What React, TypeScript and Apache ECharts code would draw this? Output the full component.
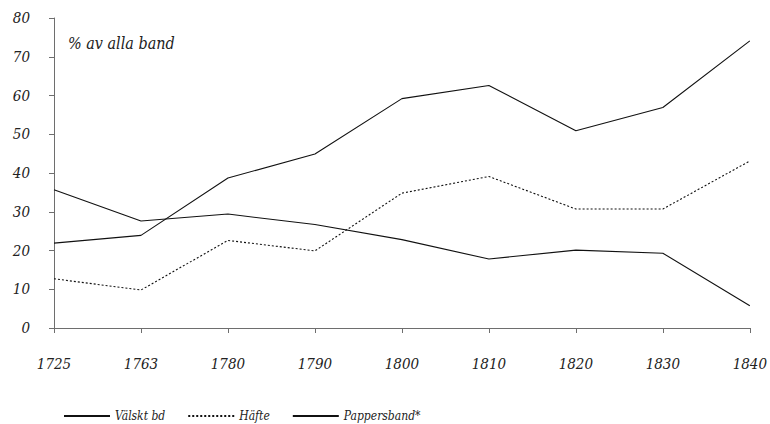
import React, { useEffect, useRef } from "react";
import * as echarts from "echarts";

const years = ["1725", "1763", "1780", "1790", "1800", "1810", "1820", "1830", "1840"];
const valsktBd = [21.9, 23.9, 38.7, 44.9, 59.2, 62.6, 50.9, 56.9, 74.1];
const hafte = [12.7, 9.8, 22.6, 19.9, 34.8, 39.1, 30.7, 30.7, 43.1];
const pappersband = [35.7, 27.6, 29.4, 26.7, 22.8, 17.8, 20.1, 19.3, 5.75];
const yTicks = [0, 10, 20, 30, 40, 50, 60, 70, 80];
const annotation = "% av alla band";

const FONT = "DejaVu Serif Condensed";
const AXIS = "#6e6e6e";

export default function App() {
  const ref = useRef<HTMLDivElement>(null);
  useEffect(() => {
    if (!ref.current) return;
    const chart = echarts.init(ref.current, null, { renderer: "svg" });
    const labelStyle = {
      fontFamily: FONT,
      fontStyle: "italic" as const,
      fontSize: 15,
      color: "#222",
    };
    chart.setOption({
      animation: false,
      backgroundColor: "#fff",
      grid: { left: 54, right: 18, top: 18, bottom: 96, containLabel: false },
      xAxis: {
        type: "category",
        data: years,
        boundaryGap: false,
        axisLine: { lineStyle: { color: AXIS, width: 1 } },
        axisTick: { show: true, length: 5, alignWithLabel: true, lineStyle: { color: AXIS } },
        axisLabel: { ...labelStyle, margin: 28 },
        splitLine: { show: false },
      },
      yAxis: {
        type: "value",
        min: yTicks[0],
        max: yTicks[yTicks.length - 1],
        interval: 10,
        axisLine: { show: true, lineStyle: { color: AXIS, width: 1 } },
        axisTick: { show: true, length: 5, lineStyle: { color: AXIS } },
        axisLabel: { ...labelStyle, margin: 24 },
        splitLine: { show: false },
      },
      legend: {
        bottom: 2,
        left: 63,
        padding: 0,
        itemWidth: 46,
        itemHeight: 10,
        itemGap: 22,
        itemStyle: { opacity: 0 },
        textStyle: { fontFamily: FONT, fontStyle: "italic", fontSize: 12, color: "#222" },
        data: ["Välskt bd", "Häfte", "Pappersband*"],
      },
      graphic: [
        {
          type: "text",
          left: 68,
          top: 35,
          style: {
            text: annotation,
            fontFamily: FONT,
            fontStyle: "italic",
            fontSize: 16,
            fill: "#222",
          },
        },
      ],
      series: [
        {
          name: "Välskt bd",
          type: "line",
          data: valsktBd,
          symbol: "none",
          lineStyle: { color: "#111", width: 1.1 },
          itemStyle: { color: "#111" },
        },
        {
          name: "Häfte",
          type: "line",
          data: hafte,
          symbol: "none",
          lineStyle: { color: "#111", width: 1.1, type: [2, 2] },
          itemStyle: { color: "#111" },
        },
        {
          name: "Pappersband*",
          type: "line",
          data: pappersband,
          symbol: "none",
          lineStyle: { color: "#111", width: 1.1 },
          itemStyle: { color: "#111" },
        },
      ],
    });
    return () => chart.dispose();
  }, []);
  return <div ref={ref} style={{ width: 770, height: 424, position: "absolute", left: 0, top: 0 }} />;
}
